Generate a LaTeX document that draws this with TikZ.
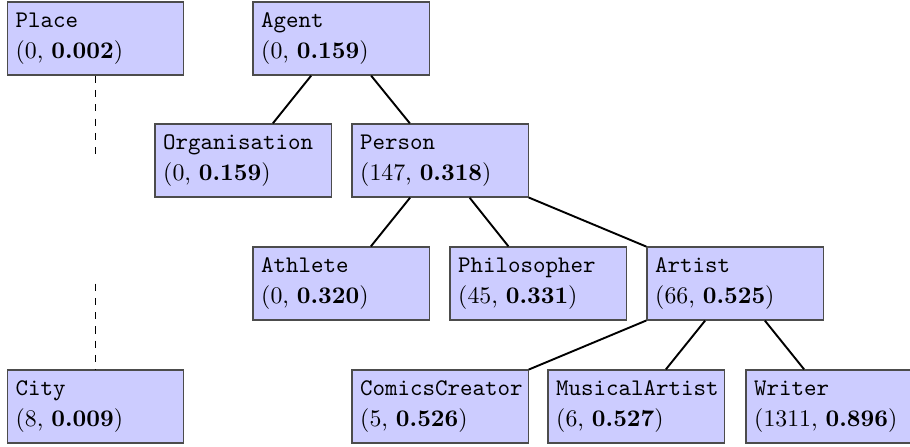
\documentclass[tikz,border=0pt]{standalone}
\usepackage{xcolor}
\begin{document}
\begin{tikzpicture}[x=0.42pt,y=-0.42pt,
  cls/.style={draw=black!70, line width=0.5pt, fill=blue!20, rectangle,
    text width=67pt, inner xsep=3.5pt, inner ysep=0pt, minimum height=30.7pt,
    align=left, font=\normalsize},
  link/.style={draw=black, line width=0.8pt},
  dlink/.style={draw=black, line width=0.5pt, dashed}]
\useasboundingbox (0,0) rectangle (910,446);
\node[cls] (place) at (95.5,38.5) {\texttt{Place}\\[1pt](0, \textbf{0.002})};
\node[cls] (agent) at (341,38.5) {\texttt{Agent}\\[1pt](0, \textbf{0.159})};
\node[cls] (org) at (243,160.5) {\texttt{Organisation}\\[1pt](0, \textbf{0.159})};
\node[cls] (person) at (440,160.5) {\texttt{Person}\\[1pt](147, \textbf{0.318})};
\node[cls] (athlete) at (341,283.5) {\texttt{Athlete}\\[1pt](0, \textbf{0.320})};
\node[cls] (phil) at (538,283.5) {\texttt{Philosopher}\\[1pt](45, \textbf{0.331})};
\node[cls] (artist) at (735,283.5) {\texttt{Artist}\\[1pt](66, \textbf{0.525})};
\node[cls] (city) at (95.5,406.5) {\texttt{City}\\[1pt](8, \textbf{0.009})};
\node[cls] (comics) at (440,406.5) {\texttt{ComicsCreator}\\[1pt](5, \textbf{0.526})};
\node[cls] (musical) at (636,406.5) {\texttt{MusicalArtist}\\[1pt](6, \textbf{0.527})};
\node[cls] (writer) at (834,406.5) {\texttt{Writer}\\[1pt](1311, \textbf{0.896})};
\coordinate (gap1) at (95.5,160.5);
\coordinate (gap2) at (95.5,283.5);
\draw[link] (agent) -- (org);
\draw[link] (agent) -- (person);
\draw[link] (person) -- (athlete);
\draw[link] (person) -- (phil);
\draw[link] (person) -- (artist);
\draw[link] (artist) -- (comics);
\draw[link] (artist) -- (musical);
\draw[link] (artist) -- (writer);
\draw[dlink] (place) -- (gap1);
\draw[dlink] (gap2) -- (city);
\end{tikzpicture}
\end{document}
